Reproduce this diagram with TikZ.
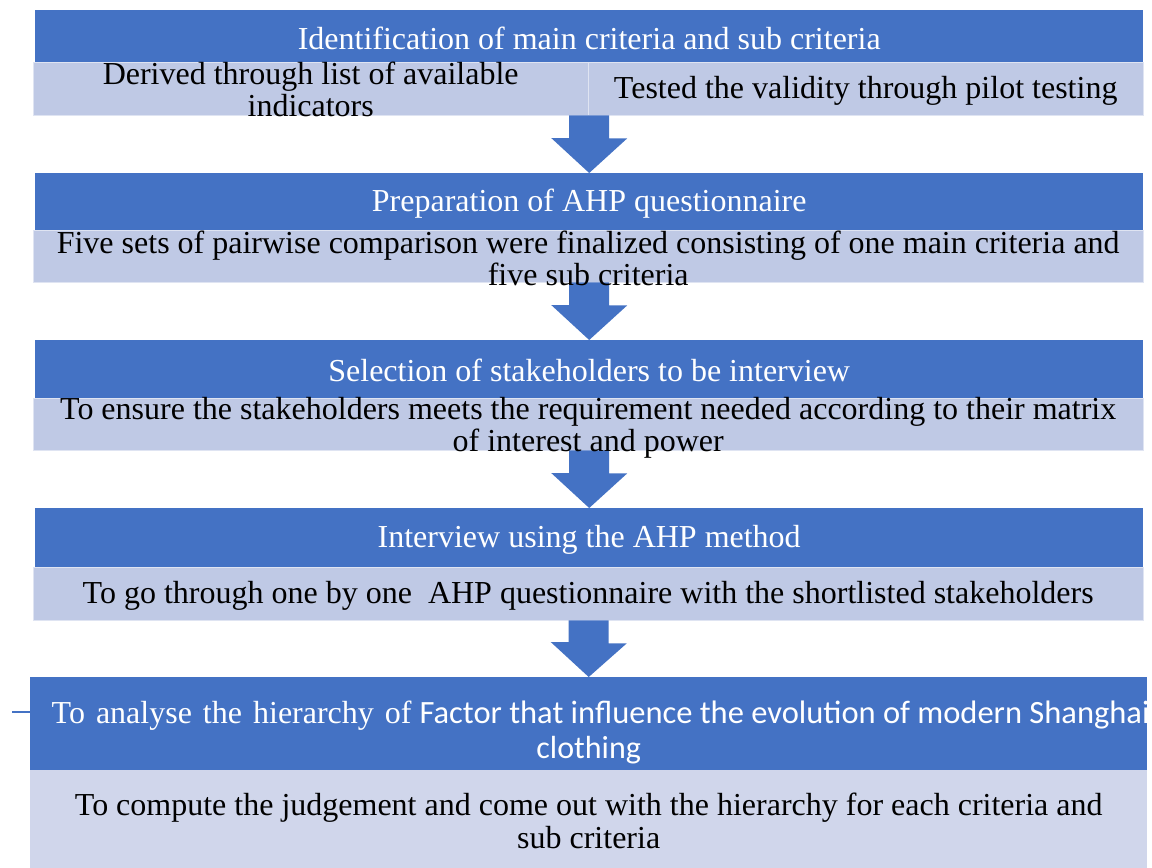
\documentclass[tikz,border=0pt]{standalone}
\usepackage{fontspec}
\setmainfont{Liberation Serif}
\newfontfamily\calibrifont{Carlito}
\usetikzlibrary{positioning,calc}
\definecolor{ahpblue}{RGB}{68,114,196}
\definecolor{ahplight}{RGB}{191,201,229}
\definecolor{ahppale}{RGB}{208,214,235}

\begin{document}
\begin{tikzpicture}[x=1pt, y=-1pt,
    stagebox/.style={rectangle, fill=ahpblue, anchor=north west, inner sep=0pt,
        minimum width=1108pt},
    notebox/.style={rectangle, fill=ahplight, draw=ahplight!50!white, anchor=north west,
        inner sep=0pt, minimum width=1110pt},
    headtext/.style={text=white, align=center, inner sep=0pt, yshift=-2pt,
        font=\fontsize{32}{33}\selectfont},
    notetext/.style={text=black, align=center, inner sep=0pt, yshift=-2pt,
        font=\fontsize{32}{32}\selectfont}
]
\useasboundingbox[fill=white] (0,0) rectangle (1152,868);

\node[stagebox, minimum height=52pt] (ident) at (35,10) {};
\node[notebox, minimum width=555pt, minimum height=53pt] (note1a) at (33,62) {};
\node[notebox, minimum width=555pt, minimum height=53pt] (note1b) at (588,62) {};

\node[stagebox, minimum height=57pt] (plan) at (35,173) {};
\node[notebox, minimum height=52pt] (note2) at (33,230) {};

\node[stagebox, minimum height=58pt] (select) at (35,340) {};
\node[notebox, minimum height=52pt] (note3) at (33,398) {};

\node[stagebox, minimum height=59pt] (meet) at (35,508) {};
\node[notebox, minimum height=53pt] (note4) at (33,567) {};

\node[stagebox, minimum width=1117pt, minimum height=93pt] (result) at (30,677) {};
\node[notebox, fill=ahppale, draw=none, minimum width=1117pt, minimum height=98pt] (note5) at (30,770) {};

\foreach \a/\b in {note1a/plan, note2/select, note3/meet, note4/result} {
    \fill[ahpblue] (\b.north |- \a.south) ++(-20,0) -- ++(40,0) -- ++(0,23) -- ++(18,0)
        -- (\b.north) -- ++(-38,-35) -- ++(18,0) -- cycle;
}

\node[headtext] (identtxt) at (ident) {Identification of main criteria and sub criteria};
\node[notetext, yshift=1pt] (note1atxt) at (note1a) {Derived through list of available\\indicators};
\node[notetext] (note1btxt) at (note1b) {Tested the validity through pilot testing};

\node[headtext] (plantxt) at (plan) {Preparation of AHP questionnaire};
\node[notetext] (note2txt) at (note2) {Five sets of pairwise comparison were finalized consisting of one main criteria and\\five sub criteria};

\node[headtext, yshift=1pt] (selecttxt) at (select) {Selection of stakeholders to be interview};
\node[notetext, yshift=-2pt] (note3txt) at (note3) {To ensure the stakeholders meets the requirement needed according to their matrix\\of interest and power};

\node[headtext] (meettxt) at (meet) {Interview using the AHP method};
\node[notetext] (note4txt) at (note4) {To go through one by one\ \ AHP questionnaire with the shortlisted stakeholders};

\node[headtext, font=\fontsize{32}{35}\selectfont] (resulttxt) at ([xshift=12pt,yshift=-7pt]result.center)
    {{\spaceskip=11pt To analyse the hierarchy of} {\calibrifont\fontsize{32.5}{35}\selectfont Factor that influence the evolution of modern Shanghai}\\\hspace*{-24pt}{\calibrifont clothing}};
\node[notetext, font=\fontsize{32}{33}\selectfont] (note5txt) at (note5)
    {To compute the judgement and come out with the hierarchy for each criteria and\\sub criteria};

\coordinate (stub) at (12,712);
\draw[ahpblue, line width=1.5pt] (stub) -- (stub -| result.west);
\end{tikzpicture}
\end{document}
